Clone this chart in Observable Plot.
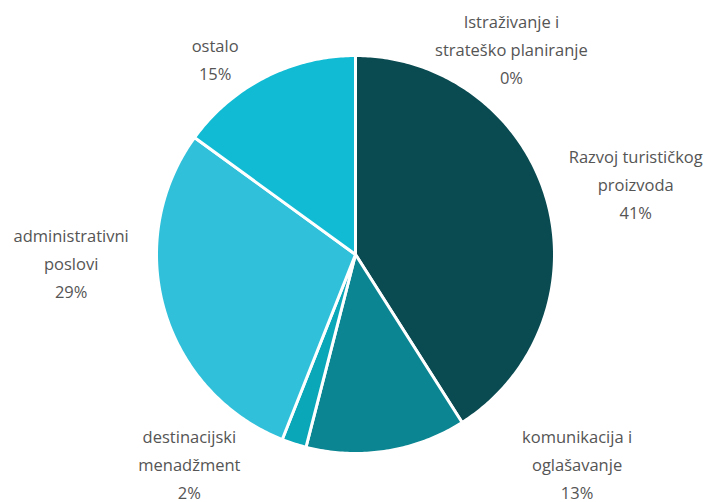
<!DOCTYPE html>
<html>
<head>
<meta charset="utf-8">
<script src="https://cdn.jsdelivr.net/npm/d3@7"></script>
<script src="https://cdn.jsdelivr.net/npm/@observablehq/plot@0.6"></script>
<style>
  html, body { margin: 0; padding: 0; background: #fff; }
  #chart { width: 710px; height: 502px; }
</style>
</head>
<body>
<div id="chart"></div>
<script>
// ---- data ----
const categories = [
  "Istraživanje i strateško planiranje",
  "Razvoj turističkog proizvoda",
  "komunikacija i oglašavanje",
  "destinacijski menadžment",
  "administrativni poslovi",
  "ostalo"
];
const labelTexts = [
  "Istraživanje i\nstrateško planiranje",
  "Razvoj turističkog\nproizvoda",
  "komunikacija i\noglašavanje",
  "destinacijski\nmenadžment",
  "administrativni\nposlovi",
  "ostalo"
];
const shares = [0, 41, 13, 2, 29, 15];
const colors = ["#0a4a51", "#0a4a51", "#0b8591", "#0aa7b9", "#31c0d9", "#11bbd3"];

// ---- label layout (angle in degrees clockwise from top, radius as fraction of pie radius) ----
const labelAngle = [37.4, 76.2, 133.7, 218.2, 267.8, 324];
const labelRadius = [1.29, 1.45, 1.54, 1.35, 1.43, 1.20];

// ---- geometry ----
const W = 710, H = 502, R = 199, CX = 355, CY = 254;
const total = d3.sum(shares);
const slices = [];
let acc = 0;
shares.forEach((v, i) => {
  const a0 = acc / total * 2 * Math.PI;
  acc += v;
  const a1 = acc / total * 2 * Math.PI;
  const n = Math.max(2, Math.ceil((a1 - a0) * 80));
  slices.push({cat: categories[i], x: 0, y: 0});
  for (let k = 0; k <= n; k++) {
    const a = a0 + (a1 - a0) * k / n;
    slices.push({cat: categories[i], x: Math.sin(a), y: Math.cos(a)});
  }
  slices.push({cat: categories[i], x: 0, y: 0});
});

const labels = categories.map((c, i) => {
  const a = labelAngle[i] * Math.PI / 180;
  return {
    text: labelTexts[i] + "\n" + shares[i] + "%",
    x: labelRadius[i] * Math.sin(a),
    y: labelRadius[i] * Math.cos(a)
  };
});

const chart = Plot.plot({
  width: W,
  height: H,
  margin: 0,
  x: {domain: [-CX / R, (W - CX) / R], axis: null},
  y: {domain: [-(H - CY) / R, CY / R], axis: null},
  color: {domain: categories, range: colors},
  style: {background: "#fff"},
  marks: [
    Plot.line(slices, {x: "x", y: "y", z: "cat", fill: "cat", stroke: "#fff", strokeWidth: 3, strokeLinejoin: "round"}),
    Plot.text(labels, {
      x: "x", y: "y", text: "text",
      fontSize: 16.5, lineHeight: 1.7, dy: -4,
      fontFamily: "'Open Sans', sans-serif",
      fill: "#555555", textAnchor: "middle", lineAnchor: "middle"
    })
  ]
});
document.getElementById("chart").appendChild(chart);
</script>
</body>
</html>
